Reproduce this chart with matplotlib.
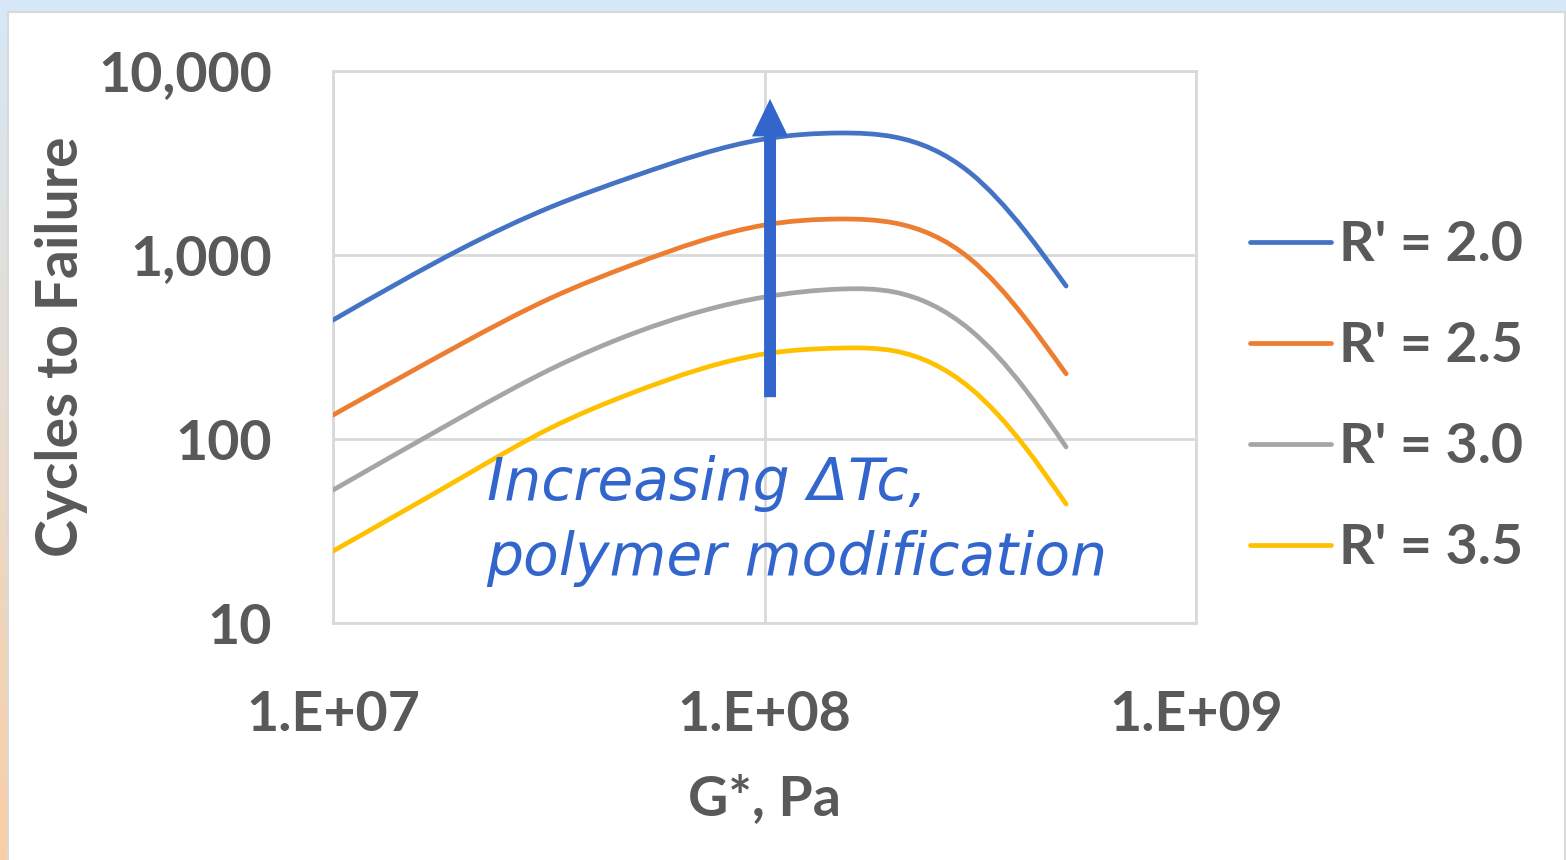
import numpy as np
import matplotlib
matplotlib.use("Agg")
import matplotlib.pyplot as plt
from matplotlib.path import Path
from matplotlib.patches import PathPatch, Rectangle, FancyArrowPatch
from matplotlib.lines import Line2D

# data (G* in Pa, cycles to failure)
g_star = [1e7, 2e7, 3.2e7, 5e7, 1e8, 1.5e8, 2e8, 3e8, 4e8, 5e8]
n_r20 = [443, 1091, 1824, 2688, 4270, 4603, 4378, 2790, 1367, 678]
n_r25 = [135, 332, 584, 894, 1455, 1569, 1493, 951, 460, 226]
n_r30 = [52.8, 133, 240, 377, 591, 653, 629, 391, 189, 90.5]
n_r35 = [24.6, 62.2, 115, 180, 290, 312, 301, 189, 91.6, 44.3]
labels = ["R' = 2.0", "R' = 2.5", "R' = 3.0", "R' = 3.5"]
colors = ["#4472C4", "#ED7D31", "#A5A5A5", "#FFC000"]

x_ticks = [1e7, 1e8, 1e9]
x_ticklabels = ["1.E+07", "1.E+08", "1.E+09"]
y_ticks = [10, 100, 1000, 10000]
y_ticklabels = ["10", "100", "1,000", "10,000"]

arrow_x = 1.03e8
arrow_from, arrow_to = 163, 7300

txt_col = "#595959"
arrow_col = "#3366CC"
fs = 40


def smooth_path(xs, ys):
    # smoothed line: natural cubic spline through the points (log space),
    # drawn as bezier segments so the path itself stays on the data points
    x = np.log10(xs)
    y = np.log10(ys)
    n = len(x)
    h = np.diff(x)
    A = np.zeros((n, n))
    b = np.zeros(n)
    A[0, 0] = A[-1, -1] = 1
    for i in range(1, n - 1):
        A[i, i - 1] = h[i - 1]
        A[i, i] = 2 * (h[i - 1] + h[i])
        A[i, i + 1] = h[i]
        b[i] = 6 * ((y[i + 1] - y[i]) / h[i] - (y[i] - y[i - 1]) / h[i - 1])
    M = np.linalg.solve(A, b)
    m = np.empty(n)
    m[:-1] = (y[1:] - y[:-1]) / h - h * (2 * M[:-1] + M[1:]) / 6
    m[-1] = (y[-1] - y[-2]) / h[-1] + h[-1] * (M[-2] + 2 * M[-1]) / 6
    verts = [(x[0], y[0])]
    codes = [Path.MOVETO]
    for i in range(n - 1):
        verts += [(x[i] + h[i] / 3, y[i] + m[i] * h[i] / 3),
                  (x[i + 1] - h[i] / 3, y[i + 1] - m[i + 1] * h[i] / 3),
                  (x[i + 1], y[i + 1])]
        codes += [Path.CURVE4] * 3
    return Path(10 ** np.array(verts), codes)


plt.rcParams['font.family'] = ['Lato', 'DejaVu Sans']

fig = plt.figure(figsize=(15.66, 8.6), dpi=100)

# window-ish background: gradient strip at left/top, white card with gray border
bg = fig.add_axes([0, 0, 1, 1], zorder=-10)
grad = np.linspace(0, 1, 256)[:, None, None]
top = np.array([0.84, 0.91, 0.97])
bot = np.array([0.98, 0.81, 0.64])
bg.imshow(top * (1 - grad) + bot * grad, aspect='auto', extent=[0, 1, 0, 1])
bg.set_axis_off()
fig.patches.append(Rectangle((8 / 1566, -0.01), 1557 / 1566, 857 / 860,
                             transform=fig.transFigure, fc='white',
                             ec='#D9D9D9', lw=1.5, zorder=-5))

ax = fig.add_axes([333 / 1566, 237 / 860, 863 / 1566, 552 / 860])
ax.set_facecolor('none')
ax.set_xscale('log')
ax.set_yscale('log')
ax.set_xlim(1e7, 1e9)
ax.set_ylim(10, 10000)

handles = []
for ys, col, lab in zip([n_r20, n_r25, n_r30, n_r35], colors, labels):
    ax.add_patch(PathPatch(smooth_path(g_star, ys), fill=False, ec=col,
                           lw=3.4, capstyle='round', zorder=3))
    handles.append(Line2D([], [], color=col, lw=3.4, solid_capstyle='round', label=lab))

ax.set_xticks(x_ticks, x_ticklabels)
ax.set_yticks(y_ticks, y_ticklabels)
ax.minorticks_off()
ax.tick_params(length=0, labelsize=fs, colors=txt_col)
ax.tick_params(axis='x', pad=48)
ax.tick_params(axis='y', pad=44)
for lab in ax.get_xticklabels() + ax.get_yticklabels():
    lab.set_fontweight('bold')
ax.grid(True, color='#D9D9D9', lw=2)
for sp in ax.spines.values():
    sp.set_color('#D9D9D9')
    sp.set_linewidth(2)

ax.set_xlabel("G*, Pa", fontsize=fs, fontweight='bold', color=txt_col, labelpad=25)
ax.set_ylabel("Cycles to Failure", fontsize=41, fontweight='bold', color=txt_col, labelpad=7)

arrow = FancyArrowPatch((arrow_x, arrow_from), (arrow_x, arrow_to),
                        arrowstyle='simple,head_length=2.7,head_width=2.6,tail_width=0.86',
                        mutation_scale=10, color=arrow_col, lw=0, zorder=4)
ax.add_patch(arrow)

ax.text(0.178, 0.305, "Increasing ΔTc,\npolymer modification", transform=ax.transAxes,
        fontsize=42, style='italic', color=arrow_col, va='top', ha='left',
        linespacing=1.4, family=['DejaVu Sans'], zorder=5)

fig.legend(handles=handles, loc='upper left', bbox_to_anchor=(1250 / 1566, 640 / 860),
           frameon=False, prop={'weight': 'bold', 'size': fs},
           handlelength=1.45, handletextpad=0.15, labelspacing=0.92,
           borderpad=0, borderaxespad=0, labelcolor=txt_col)

fig.savefig("out.png", dpi=100)
